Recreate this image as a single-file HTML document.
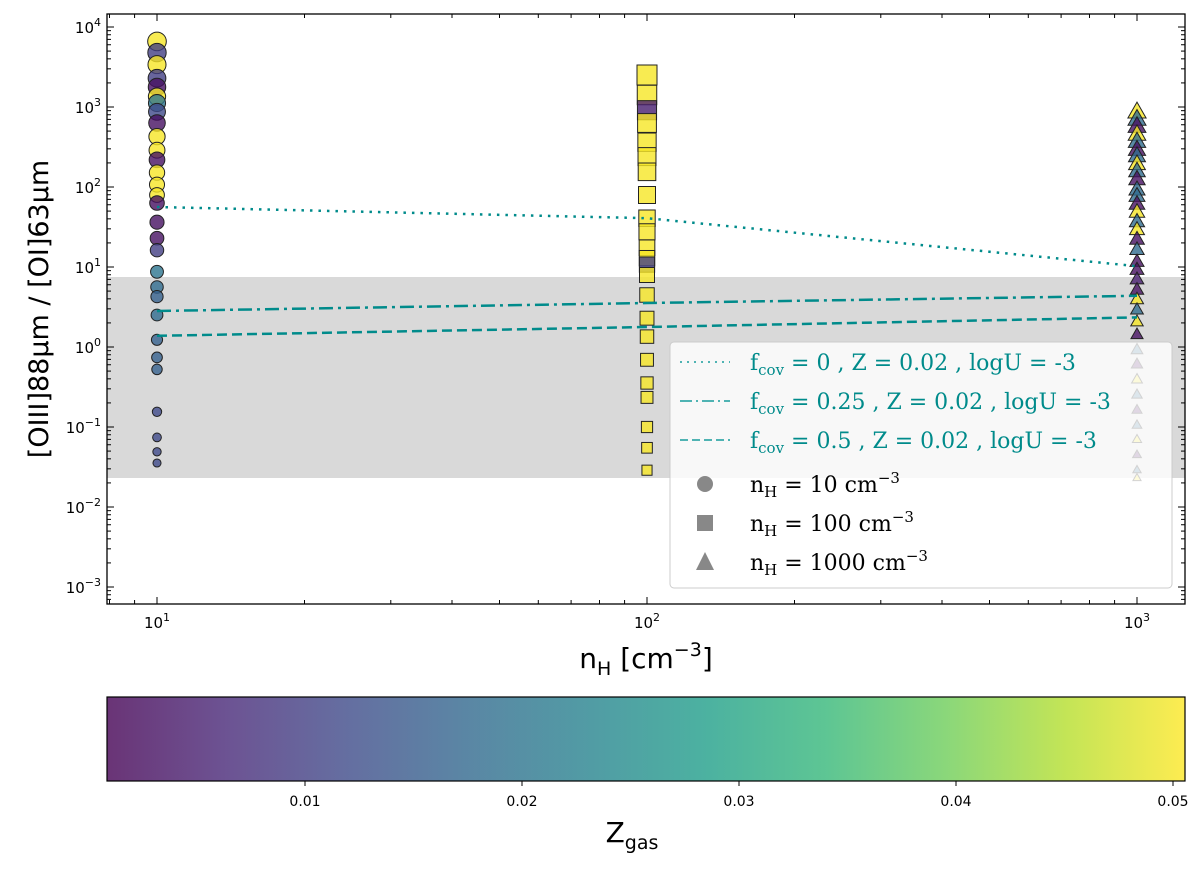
<!DOCTYPE html>
<html><head><meta charset="utf-8"><style>
body{margin:0;background:#fff}
svg text{font-family:"DejaVu Sans","Liberation Sans",sans-serif}
.serif{font-family:"DejaVu Serif","Liberation Serif",serif}
</style></head><body>
<svg id="chart" width="1200" height="867" xmlns="http://www.w3.org/2000/svg">
<g id="plot"></g>
</svg>
<script>
// ---- data ----
const circleLogY=[3.82,3.68,3.53,3.36,3.25,3.13,3.05,2.94,2.80,2.63,2.46,2.34,2.18,2.03,1.90,1.80,1.56,1.36,1.21,0.94,0.75,0.63,0.40,0.09,-0.13,-0.28,-0.81,-1.13,-1.31,-1.45];
const circleZ=[0.05,0.01,0.05,0.01,0.003,0.05,0.02,0.012,0.003,0.05,0.05,0.003,0.05,0.05,0.05,0.003,0.003,0.003,0.01,0.02,0.018,0.016,0.018,0.016,0.016,0.016,0.012,0.012,0.012,0.012];
const squareLogY=[3.4,3.15,2.96,2.8,2.56,2.38,2.19,1.9,1.61,1.44,1.24,1.11,1.03,0.9,0.65,0.36,0.13,-0.16,-0.45,-0.63,-1.0,-1.26,-1.54];
const squareZ=[0.05,0.05,0.005,0.05,0.05,0.05,0.05,0.05,0.05,0.05,0.05,0.05,0.01,0.05,0.05,0.05,0.05,0.05,0.05,0.05,0.05,0.05,0.05];
const triLogY=[2.93,2.84,2.75,2.65,2.56,2.46,2.38,2.28,2.19,2.09,1.96,1.88,1.78,1.68,1.56,1.46,1.34,1.21,1.06,0.96,0.84,0.71,0.59,0.46,0.31,0.15,-0.04,-0.22,-0.41,-0.60,-0.79,-0.98,-1.16,-1.35,-1.54,-1.64];
const triZ=[0.05,0.018,0.003,0.05,0.018,0.003,0.018,0.05,0.018,0.003,0.018,0.018,0.003,0.05,0.018,0.05,0.003,0.018,0.003,0.003,0.005,0.003,0.05,0.018,0.05,0.003,0.018,0.003,0.05,0.018,0.003,0.018,0.05,0.003,0.018,0.05];
const lineX=[10,100,1000];
const lineF0=[1.75,1.61,1.01];
const lineF025=[0.45,0.55,0.64];
const lineF05=[0.14,0.25,0.37];
const xTicks=[10,100,1000];
const yTickExp=[-3,-2,-1,0,1,2,3,4];
const cbTicks=[0.01,0.02,0.03,0.04,0.05];

// ---- axes ----
const X0=107,X1=1185,Y0=14,Y1=604;
const xs=v=>157+(Math.log10(v)-1)*490;
const ys=l=>347-l*80;
const cbx=z=>305+(z-0.01)*21700;
const NS="http://www.w3.org/2000/svg";
const svg=document.getElementById('chart');
function el(t,a,p){const e=document.createElementNS(NS,t);for(const k in a)e.setAttribute(k,a[k]);(p||svg).appendChild(e);return e;}
const vir=[[68,1,84],[72,40,120],[62,74,137],[49,104,142],[38,130,142],[31,158,137],[53,183,121],[109,205,89],[180,222,44],[253,231,37]];
function viridis(z){let t=(z-0.0009)/(0.05055-0.0009);t=Math.max(0,Math.min(1,t))*9;const i=Math.min(8,Math.floor(t)),f=t-i;const c=vir[i].map((v,k)=>Math.round(v+(vir[i+1][k]-v)*f));return `rgb(${c})`;}

// grey band
let b=el('rect',{x:X0,y:277,width:X1-X0,height:201,fill:'#d9d9d9'});



// markers
circleLogY.forEach((l,i)=>{const r=4+(l+1.5)*1.0;const c=el('circle',{cx:xs(10),cy:ys(l),r:r,fill:viridis(circleZ[i]),'fill-opacity':0.8,stroke:'#222','stroke-width':1});

});
squareLogY.forEach((l,i)=>{const h=5+(l+1.6)*1.0;const c=el('rect',{x:xs(100)-h,y:ys(l)-h,width:2*h,height:2*h,fill:viridis(squareZ[i]),'fill-opacity':0.8,stroke:'#222','stroke-width':1});

});
triLogY.forEach((l,i)=>{const h=4+(l+1.7)*1.1;const x=xs(1000),y=ys(l);const c=el('polygon',{points:`${x},${y-h*1.15} ${x-h},${y+h*0.6} ${x+h},${y+h*0.6}`,fill:viridis(triZ[i]),'fill-opacity':0.8,stroke:'#222','stroke-width':1});

});

// model lines
function line(arr,dash,name){const p=el('polyline',{points:lineX.map((v,i)=>xs(v)+','+ys(arr[i])).join(' '),fill:'none',stroke:'#008b8b','stroke-width':2.5,'stroke-dasharray':dash});

}
line(lineF0,'2.5,6','line-fcov-0');
line(lineF025,'14,5,3,5','line-fcov-025');
line(lineF05,'10,5','line-fcov-05');

// frame
let fr=el('rect',{x:X0,y:Y0,width:X1-X0,height:Y1-Y0,fill:'none',stroke:'#000','stroke-width':1.3});



// x ticks
for(let d=1;d<=3;d++){for(let m=1;m<10;m++){const v=m*Math.pow(10,d);const x=xs(v);if(x<X0||x>X1)continue;const L=m==1?7:4;
el('line',{x1:x,y1:Y1,x2:x,y2:Y1-L,stroke:'#000'});el('line',{x1:x,y1:Y0,x2:x,y2:Y0+L,stroke:'#000'});}}
for(let m=8;m<10;m++){const x=xs(m);if(x>X0){el('line',{x1:x,y1:Y1,x2:x,y2:Y1-4,stroke:'#000'});el('line',{x1:x,y1:Y0,x2:x,y2:Y0+4,stroke:'#000'});}}
xTicks.forEach(v=>{const t=el('text',{x:xs(v),y:628,'text-anchor':'middle','font-size':15});t.innerHTML=`10<tspan dy="-7" font-size="11">${Math.round(Math.log10(v))}</tspan>`;

});
// y ticks
for(let e=-4;e<=4;e++){for(let m=1;m<10;m++){const y=ys(e+Math.log10(m));if(y<Y0||y>Y1)continue;const L=m==1?7:4;
el('line',{x1:X0,y1:y,x2:X0+L,y2:y,stroke:'#000'});el('line',{x1:X1,y1:y,x2:X1-L,y2:y,stroke:'#000'});}}
yTickExp.forEach(e=>{const t=el('text',{x:101,y:ys(e)+6,'text-anchor':'end','font-size':15});t.innerHTML=`10<tspan dy="-7" font-size="11">${e<0?'−'+(-e):e}</tspan>`;

});

// axis titles
let xt=el('text',{x:646,y:668,'text-anchor':'middle','font-size':28});xt.innerHTML='n<tspan dy="7" font-size="19">H</tspan><tspan dy="-7"> [cm</tspan><tspan dy="-12" font-size="19">−3</tspan><tspan dy="12">]</tspan>';


let yt=el('text',{x:0,y:0,'text-anchor':'middle','font-size':27,transform:'translate(48,309) rotate(-90)'});yt.textContent='[OIII]88μm / [OI]63μm';



// legend
const lg=el('g',{});


el('rect',{x:670,y:342,width:502,height:246,rx:4,fill:'#fff','fill-opacity':0.8,stroke:'#ccc'},lg);
const teal='#008b8b';
[['2,5','0'],['12,4,2,4','0.25'],['8,4','0.5']].forEach((d,i)=>{const y=362+i*39;
el('line',{x1:680,y1:y,x2:730,y2:y,stroke:'#4fb3b3','stroke-width':2,'stroke-dasharray':d[0]},lg);
const t=el('text',{x:750,y:y+8,'font-size':22,fill:teal,class:'serif'},lg);
t.innerHTML=`f<tspan dy="5" font-size="15">cov</tspan><tspan dy="-5"> = ${d[1]} , Z = 0.02 , logU = -3</tspan>`;

});
['10','100','1000'].forEach((n,i)=>{const y=484+i*39;
if(i==0)el('circle',{cx:705,cy:y,r:8,fill:'#888'},lg);
if(i==1)el('rect',{x:697,y:y-8,width:16,height:16,fill:'#888'},lg);
if(i==2)el('polygon',{points:`705,${y-10} 696,${y+8} 714,${y+8}`,fill:'#888'},lg);
const t=el('text',{x:750,y:y+8,'font-size':22,fill:'#000',class:'serif'},lg);
t.innerHTML=`n<tspan dy="5" font-size="15">H</tspan><tspan dy="-5"> = ${n} cm</tspan><tspan dy="-9" font-size="15">−3</tspan>`;

});

// colorbar
const defs=el('defs',{});const gr=el('linearGradient',{id:'vg',x1:0,x2:1,y1:0,y2:0},defs);
vir.forEach((c,i)=>el('stop',{offset:i/9,'stop-color':`rgb(${c})`},gr));
const cb=el('rect',{x:107,y:697,width:1078,height:84,fill:'url(#vg)','fill-opacity':0.8,stroke:'#000','stroke-width':1.2});


cbTicks.forEach(z=>{el('line',{x1:cbx(z),y1:781,x2:cbx(z),y2:786,stroke:'#000'});
const t=el('text',{x:cbx(z),y:806,'text-anchor':'middle','font-size':14});t.textContent=z.toFixed(2);

});
let ct=el('text',{x:632,y:842,'text-anchor':'middle','font-size':28});ct.innerHTML='Z<tspan dy="7" font-size="19">gas</tspan>';


</script>
</body></html>
